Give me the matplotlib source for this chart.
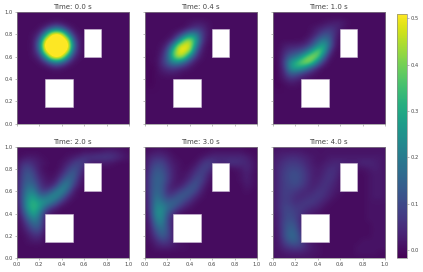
"""
Six snapshots of a scalar field around two blocks,
with one shared colorbar.
"""

import numpy as np
import matplotlib
matplotlib.use("Agg")
import matplotlib.pyplot as plt
from matplotlib.patches import Rectangle

times = ["0.0", "0.4", "1.0", "2.0", "3.0", "4.0"]

# field values in hundredths, rows run from y=1.0 down to y=0.0 in 0.05 steps,
# columns from x=0.0 in 0.05 steps, trailing zeros left out
field_00 = [
    [], [],
    [0, 0, 0, 0, 0, 0, 1, 2, 1],
    [0, 0, 0, 0, 1, 5, 14, 20, 14, 5, 1],
    [0, 0, 0, 1, 5, 24, 50, 58, 50, 24, 5, 1],
    [0, 0, 0, 2, 14, 50, 60, 60, 60, 50, 14, 2],
    [0, 0, 0, 2, 20, 58, 60, 60, 60, 58, 20, 2],
    [0, 0, 0, 2, 14, 50, 60, 60, 60, 50, 14, 2],
    [0, 0, 0, 1, 5, 24, 50, 58, 50, 24, 5, 1],
    [0, 0, 0, 0, 1, 5, 14, 20, 14, 5, 1],
    [0, 0, 0, 0, 0, 0, 1, 2, 1],
]
field_04 = [
    [], [],
    [0, 0, 0, 0, 0, 0, 0, 0, 1, 2, 2, 1],
    [0, 0, 0, 0, 0, 0, 0, 1, 4, 7, 6, 2],
    [0, 0, 0, 0, 0, 1, 5, 14, 24, 22, 9, 2],
    [0, 0, 0, 0, 1, 5, 20, 40, 44, 30, 9, 1],
    [0, 0, 0, 1, 5, 22, 46, 50, 48, 24, 5],
    [0, 0, 0, 2, 12, 36, 50, 50, 42, 14, 2],
    [-1, 0, 0, 4, 14, 36, 46, 40, 20, 6, 1],
    [-1, 0, 0, 5, 13, 22, 22, 14, 6, 1],
    [0, -1, 0, 3, 6, 7, 5, 3, 1],
    [0, -1, 0, 1, 2, 2, 1],
    [0, -1],
    [0, -1],
]
field_10 = [
    [], [],
    [0, 0, 0, 0, 0, 0, 0, 0, 0, 1, 2, 3, 3, 1],
    [0, 0, 0, 0, 0, 0, 0, 1, 3, 5, 7, 5, 2],
    [0, 0, 0, 0, 0, 0, 0, 2, 6, 11, 11, 5],
    [0, 0, 0, 0, 0, 0, 2, 6, 14, 20, 15, 3],
    [0, 0, 2, 3, 3, 4, 6, 13, 24, 30, 16, 2],
    [0, 0, 4, 7, 9, 11, 18, 30, 40, 30, 8],
    [0, 0, 6, 14, 18, 26, 38, 44, 38, 16, 2],
    [-1, 0, 8, 24, 32, 40, 44, 36, 18, 5],
    [-1, 0, 6, 24, 30, 28, 20, 10, 3],
    [-1, 0, 4, 13, 13, 8, 4, 2],
    [-1, 0, 2, 5, 4, 2, 1],
    [0, -1, 0, 1, 1],
]
field_20 = [
    [],
    [0, 0, 0, 0, 0, 0, 0, 0, 0, 0, 0, 0, 1, 1, 1, 2, 3, 3, 2, 1],
    [0, 1, 2, 2, 1, 0, 0, 0, 0, 1, 2, 4, 6, 6, 7, 7, 7, 6, 4, 2, 1],
    [1, 5, 6, 4, 2, 1, 0, 0, 1, 3, 7, 9, 7, 3, 2, 2, 2, 1],
    [1, 8, 10, 6, 2, 0, 0, 0, 2, 7, 11, 9, 3],
    [2, 9, 13, 9, 3, 1, 0, 1, 5, 11, 14, 7, 1],
    [2, 10, 14, 11, 5, 2, 1, 3, 10, 17, 13, 4],
    [2, 11, 17, 15, 7, 3, 3, 8, 19, 20, 9, 2],
    [2, 12, 21, 20, 10, 7, 11, 20, 23, 14, 3],
    [2, 13, 25, 27, 18, 17, 23, 23, 15, 5, 1],
    [1, 13, 28, 32, 27, 25, 21, 13, 5, 1],
    [1, 11, 28, 33, 27, 16, 7, 3],
    [0, 8, 22, 30, 20, 5, 1],
    [0, 4, 15, 22, 16, 3],
    [0, 2, 9, 16, 14, 2],
    [0, 1, 5, 10, 10, 1],
    [0, 0, 2, 5, 5],
    [0, 0, 1, 2, 2],
]
field_30 = [
    [],
    [0, 1, 2, 2, 1, 0, 0, 0, 0, 0, 0, 0, 1, 1, 1, 1, 1, 1],
    [1, 4, 5, 5, 3, 1, 0, 0, 0, 0, 1, 3, 4, 4, 4, 4, 4, 4, 3, 1],
    [1, 6, 9, 9, 5, 2, 1, 0, 0, 1, 5, 8, 7, 5, 5, 6, 6, 5, 4, 2],
    [1, 8, 12, 11, 7, 3, 1, 0, 1, 4, 8, 8, 4, 0, 0, 0, 1, 2, 4, 2],
    [2, 9, 14, 13, 8, 3, 1, 1, 3, 7, 9, 5, 1, 0, 0, 0, 0, 1, 3, 1],
    [2, 10, 15, 14, 8, 3, 1, 2, 5, 10, 9, 3, 0, 0, 0, 0, 0, 1, 3, 1],
    [2, 10, 15, 13, 6, 2, 2, 5, 10, 12, 6, 1, 0, 0, 0, 0, 0, 0, 2, 1],
    [2, 10, 16, 13, 5, 4, 7, 11, 13, 9, 3, 0, 0, 0, 0, 0, 0, 0, 1],
    [1, 10, 18, 14, 8, 9, 13, 13, 9, 4, 1],
    [1, 9, 21, 18, 14, 15, 13, 8, 4, 1],
    [1, 9, 23, 23, 17, 13, 7, 3, 1],
    [0, 8, 24, 24, 13, 5, 1],
    [0, 6, 21, 23, 10, 3],
    [0, 4, 17, 20, 10, 2],
    [0, 3, 12, 17, 11, 2],
    [0, 2, 8, 14, 10, 3],
    [0, 1, 4, 8, 7, 3, 1],
    [0, 0, 2, 3, 3, 2, 1, 1],
]
field_40 = [
    [1, 1, 1, 1, 1, 1, 1, 1, 1, 1, 1, 1, 1, 1, 1, 1, 1, 1, 1, 1, 1],
    [1, 2, 2, 2, 2, 2, 1, 1, 1, 1, 1, 1, 1, 1, 1, 1, 1, 1, 1, 1, 1],
    [2, 3, 4, 5, 5, 4, 3, 2, 1, 1, 2, 2, 2, 2, 2, 2, 2, 2, 2, 2, 1],
    [2, 4, 6, 7, 7, 6, 4, 2, 1, 2, 3, 4, 4, 3, 3, 3, 4, 4, 3, 2, 1],
    [2, 5, 7, 9, 9, 8, 5, 3, 2, 3, 5, 5, 3, 0, 0, 1, 1, 2, 3, 2, 1],
    [2, 5, 8, 10, 11, 9, 6, 3, 2, 4, 6, 5, 2, 0, 0, 0, 0, 1, 2, 2, 1],
    [2, 5, 8, 10, 11, 9, 6, 3, 3, 5, 6, 4, 1, 0, 0, 0, 0, 1, 2, 2, 1],
    [2, 5, 8, 9, 10, 8, 5, 3, 4, 6, 5, 3, 1, 0, 0, 0, 0, 1, 2, 2, 1],
    [2, 5, 8, 8, 7, 5, 4, 4, 6, 6, 4, 2, 1, 0, 0, 0, 0, 1, 2, 2, 1],
    [2, 5, 8, 7, 5, 4, 5, 6, 7, 5, 3, 1, 0, 0, 0, 0, 0, 1, 2, 2, 1],
    [2, 5, 8, 7, 5, 6, 7, 7, 5, 3, 1, 0, 0, 0, 0, 0, 0, 1, 1, 1, 1],
    [2, 5, 9, 9, 7, 7, 6, 4, 3, 1, 0, 0, 0, 0, 0, 0, 0, 1, 1, 1, 1],
    [2, 4, 9, 10, 8, 6, 3, 2, 1, 0, 0, 0, 0, 0, 0, 0, 0, 1, 1, 1, 1],
    [1, 4, 9, 11, 9, 4, 1, 0, 0, 0, 0, 0, 0, 0, 0, 0, 0, 1, 1, 1, 1],
    [1, 4, 10, 13, 11, 4, 0, 0, 0, 0, 0, 0, 0, 0, 0, 0, 0, 0, 1, 1, 1],
    [1, 3, 10, 15, 13, 5, 0, 0, 0, 0, 0, 0, 0, 0, 0, 0, 0, 0, 1, 1, 1],
    [1, 3, 10, 16, 15, 7, 1, 0, 0, 0, 0, 0, 0, 0, 0, 0, 0, 0, 1, 1, 1],
    [1, 2, 8, 13, 14, 9, 3, 1, 0, 0, 0, 0, 0, 0, 0, 0, 1, 1, 1, 1, 1],
    [1, 2, 5, 7, 8, 7, 4, 2, 1, 0, 0, 0, 0, 0, 0, 1, 1, 1, 1, 1, 1],
    [1, 1, 2, 3, 3, 3, 2, 1, 1, 0, 0, 0, 0, 0, 0, 1, 1, 1, 1, 0, 0],
    [1, 1, 1, 1, 1, 1, 1, 1],
]
fields = [field_00, field_04, field_10, field_20, field_30, field_40]

# blocks as x, y, width, height
block_a = (0.25, 0.15, 0.25, 0.25)
block_b = (0.6, 0.6, 0.15, 0.25)

vmin = -0.0165
vmax = 0.51
cbar_ticks = [0.0, 0.1, 0.2, 0.3, 0.4, 0.5]
axis_ticks = [0.0, 0.2, 0.4, 0.6, 0.8, 1.0]

W = 423
H = 272
TEXT = "#444444"
EDGE = "#8a8a8a"


def to_grid(rows):
    """
    pad the rows out to a full 21x21 grid and scale.
    """
    grid = np.zeros((21, 21))
    for i, row in enumerate(rows):
        grid[i, :len(row)] = row
    return grid / 100.0


def px_axes(fig, left, top, right, bottom):
    return fig.add_axes([left / W, 1 - bottom / H, (right - left) / W, (bottom - top) / H])


def style_ticks(ax, **kwargs):
    ax.tick_params(length=1.5, width=0.4, color=EDGE, labelsize=3.7, labelcolor=TEXT, pad=1.2, **kwargs)
    for spine in ax.spines.values():
        spine.set_linewidth(0.5)
        spine.set_color(EDGE)


fig = plt.figure(figsize=(W / 100, H / 100), dpi=100)

lefts = [16.7, 144.7, 272.7]
tops = [12.0, 146.7]

image = None
for n, rows in enumerate(fields):
    col = n % 3
    row = n // 3
    ax = px_axes(fig, lefts[col], tops[row], lefts[col] + 112.3, tops[row] + 111.7)
    image = ax.imshow(to_grid(rows), extent=(-0.025, 1.025, -0.025, 1.025), origin="upper",
                      cmap="viridis", vmin=vmin, vmax=vmax, interpolation="bicubic", aspect="auto")
    for x, y, w, h in (block_a, block_b):
        ax.add_patch(Rectangle((x, y), w, h, facecolor="white", edgecolor="#cdbdd6", linewidth=0.4))
    ax.set_xlim(0, 1)
    ax.set_ylim(0, 1)
    ax.set_xticks(axis_ticks)
    ax.set_yticks(axis_ticks)
    style_ticks(ax, labelleft=(col == 0), labelbottom=(row == 1))
    ax.set_title(f"Time: {times[n]} s", fontsize=5.0, color=TEXT, pad=2.2)

cax = px_axes(fig, 397.3, 13.7, 407.0, 257.7)
cbar = fig.colorbar(image, cax=cax, ticks=cbar_ticks)
cbar.outline.set_linewidth(0.5)
cbar.outline.set_edgecolor(EDGE)
cax.tick_params(length=1.5, width=0.4, color=EDGE, labelsize=3.7, labelcolor=TEXT, pad=1.2)

fig.savefig("out.png", dpi=100)
